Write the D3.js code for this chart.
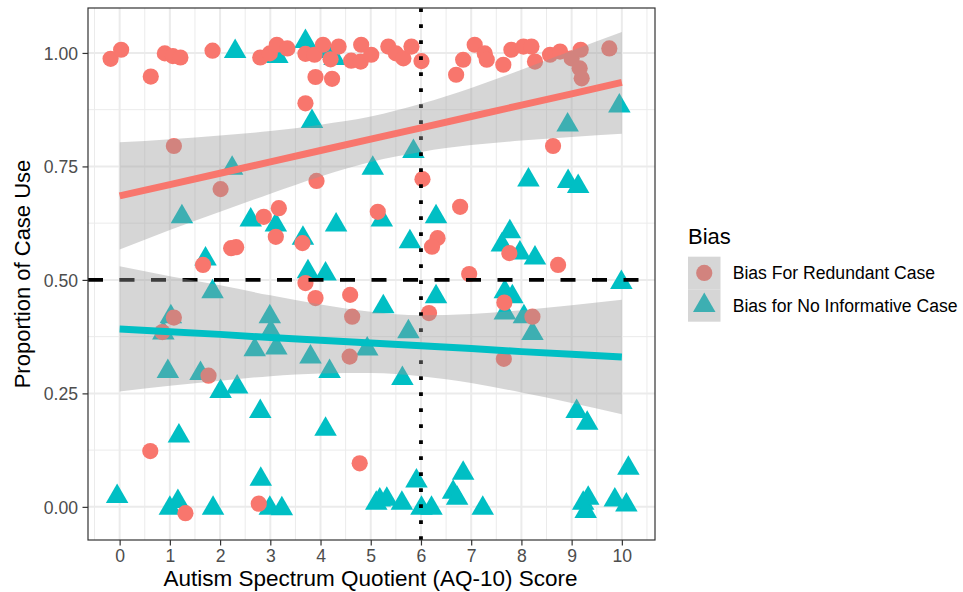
<!DOCTYPE html>
<html>
<head>
<meta charset="utf-8">
<script src="https://cdn.jsdelivr.net/npm/d3@7"></script>
<style>
  body { margin: 0; background: #fff; }
  svg text { font-family: "Liberation Sans", Arial, Helvetica, sans-serif; }
</style>
</head>
<body>
<script>
// ---- data ----
// Bias For Redundant Case (circles)
var redundantAQ = [-0.18, 0.03, 0.62, 0.90, 1.06, 1.21, 1.85, 1.08, 2.80, 2.99, 3.13, 3.34, 3.70, 3.70, 3.88,
  4.05, 4.20, 4.36, 3.90, 4.23, 4.61, 4.80, 4.81, 5.01, 3.92, 5.35, 5.50, 5.65, 5.81, 6.01, 6.70, 6.84,
  7.07, 7.27, 7.31, 7.64, 7.80, 8.04, 8.20, 8.27, 8.57, 8.77, 9.00, 9.18, 9.16, 9.20, 9.75, 8.63, 6.03,
  2.01, 2.87, 3.17, 3.11, 3.64, 2.22, 2.32, 1.66, 3.70, 3.90, 4.59, 4.63, 1.08, 0.85, 4.58, 5.14, 6.78,
  6.33, 6.22, 7.76, 8.73, 6.96, 6.16, 7.66, 8.22, 7.65, 1.77, 0.61, 4.78, 2.77, 1.31];
var redundantProp = [0.987, 1.007, 0.948, 0.999, 0.993, 0.990, 1.005, 0.795, 0.990, 0.999, 1.018, 1.010, 0.889, 0.998, 0.996,
  1.018, 0.986, 1.014, 0.947, 0.943, 0.983, 0.981, 1.018, 0.996, 0.718, 1.014, 0.999, 0.988, 1.014, 0.982, 0.952, 0.985,
  1.018, 0.999, 0.985, 0.974, 1.007, 1.014, 1.014, 0.981, 0.996, 1.003, 0.988, 1.007, 0.966, 0.944, 1.010, 0.795, 0.722,
  0.700, 0.639, 0.658, 0.595, 0.581, 0.570, 0.572, 0.533, 0.493, 0.460, 0.467, 0.419, 0.417, 0.385, 0.331, 0.650, 0.661,
  0.592, 0.573, 0.559, 0.533, 0.513, 0.427, 0.450, 0.419, 0.326, 0.289, 0.123, 0.096, 0.007, -0.014];

// Bias for No Informative Case (triangles)
var noInfoAQ = [2.30, 3.14, 3.70, 4.11, 4.28, 3.83, 2.24, 5.04, 9.95, 8.92, 5.85, 1.24, 2.61, 3.11, 3.65,
  4.31, 1.71, 3.75, 4.10, 1.85, 1.02, 2.99, 3.01, 0.87, 2.69, 3.12, 3.80, 4.93, 5.22, 6.30, 8.14, 8.93,
  9.13, 5.78, 7.77, 7.61, 7.97, 8.27, 9.99, 5.25, 6.30, 7.67, 7.82, 7.67, 8.05, 8.22, 5.75, 0.96, 1.61,
  2.01, 2.34, 4.18, 2.80, 4.10, 1.18, 2.81, -0.05, 1.00, 1.16, 1.86, 2.99, 3.23, 5.11, 5.63, 9.10, 9.31,
  10.13, 6.84, 5.91, 6.64, 5.18, 5.32, 5.62, 6.72, 6.01, 6.21, 7.23, 9.33, 9.23, 9.28, 9.86, 10.09];
var noInfoProp = [1.003, 0.992, 1.025, 1.003, 0.988, 0.849, 0.746, 0.746, 0.883, 0.841, 0.783, 0.639, 0.632, 0.621, 0.592,
  0.621, 0.546, 0.518, 0.513, 0.474, 0.419, 0.419, 0.386, 0.383, 0.346, 0.350, 0.330, 0.348, 0.632, 0.639, 0.720, 0.717,
  0.706, 0.584, 0.606, 0.577, 0.559, 0.548, 0.494, 0.441, 0.463, 0.474, 0.463, 0.427, 0.419, 0.382, 0.386, 0.298, 0.294,
  0.254, 0.264, 0.298, 0.210, 0.171, 0.156, 0.061, 0.023, -0.003, 0.012, -0.003, -0.003, -0.004, 0.008, 0.283, 0.210, 0.184,
  0.085, 0.074, 0.057, 0.032, 0.015, 0.017, 0.008, 0.019, -0.003, -0.003, -0.003, 0.019, 0.008, -0.010, 0.015, 0.004];

// linear fits with 95% band, read at each score
var fitAQ = [0, 1, 2, 3, 4, 5, 6, 7, 8, 9, 10];
var redundantFit = [0.685, 0.710, 0.735, 0.760, 0.785, 0.810, 0.835, 0.860, 0.885, 0.910, 0.935];
var redundantLo  = [0.567, 0.610, 0.650, 0.690, 0.728, 0.760, 0.782, 0.797, 0.807, 0.815, 0.822];
var redundantHi  = [0.803, 0.810, 0.818, 0.828, 0.842, 0.860, 0.888, 0.923, 0.963, 1.005, 1.046];
var noInfoFit = [0.392, 0.386, 0.380, 0.373, 0.367, 0.361, 0.355, 0.349, 0.342, 0.336, 0.330];
var noInfoLo  = [0.254, 0.267, 0.278, 0.288, 0.294, 0.295, 0.288, 0.273, 0.252, 0.229, 0.204];
var noInfoHi  = [0.530, 0.508, 0.488, 0.466, 0.446, 0.430, 0.422, 0.425, 0.433, 0.444, 0.456];

var xTicks = [0, 1, 2, 3, 4, 5, 6, 7, 8, 9, 10];
var yTicks = [0, 0.25, 0.5, 0.75, 1];
var seriesNames = ["Bias For Redundant Case", "Bias for No Informative Case"];

// ---- drawing ----
var W = 963, H = 592;
var panel = { left: 88, right: 655, top: 8, bottom: 540 };
var red = "#F8766D", teal = "#00BFC4";

var svg = d3.select("body").append("svg")
  .attr("width", W).attr("height", H)
  .style("display", "block");
svg.append("rect").attr("width", W).attr("height", H).attr("fill", "#fff");

var x = d3.scaleLinear().domain([-0.63, 10.66]).range([panel.left, panel.right]);
var y = d3.scaleLinear().domain([-0.073, 1.099]).range([panel.bottom, panel.top]);

var g = svg.append("g");

// grid
var xMinor = d3.range(-0.5, 11, 1);
var yMinor = [0.125, 0.375, 0.625, 0.875];
g.selectAll(".xminor").data(xMinor).enter().append("line")
  .attr("x1", d => x(d)).attr("x2", d => x(d))
  .attr("y1", panel.top).attr("y2", panel.bottom)
  .attr("stroke", "#EBEBEB").attr("stroke-width", 1);
g.selectAll(".yminor").data(yMinor).enter().append("line")
  .attr("y1", d => y(d)).attr("y2", d => y(d))
  .attr("x1", panel.left).attr("x2", panel.right)
  .attr("stroke", "#EBEBEB").attr("stroke-width", 1);
g.selectAll(".xmajor").data(xTicks).enter().append("line")
  .attr("x1", d => x(d)).attr("x2", d => x(d))
  .attr("y1", panel.top).attr("y2", panel.bottom)
  .attr("stroke", "#EBEBEB").attr("stroke-width", 2);
g.selectAll(".ymajor").data(yTicks).enter().append("line")
  .attr("y1", d => y(d)).attr("y2", d => y(d))
  .attr("x1", panel.left).attr("x2", panel.right)
  .attr("stroke", "#EBEBEB").attr("stroke-width", 2);

// points
function triangle(cx, cy, r) {
  var h = Math.sqrt(3) / 2 * r;
  return "M" + cx + "," + (cy - r) + "L" + (cx + h) + "," + (cy + r / 2) + "L" + (cx - h) + "," + (cy + r / 2) + "Z";
}
var noInfoPts = noInfoAQ.map((v, i) => ({ aq: v, p: noInfoProp[i] }));
var redundantPts = redundantAQ.map((v, i) => ({ aq: v, p: redundantProp[i] }));

g.selectAll(".tri").data(noInfoPts).enter().append("path")
  .attr("d", d => triangle(x(d.aq), y(d.p), 13))
  .attr("fill", teal);
g.selectAll(".dot").data(redundantPts).enter().append("circle")
  .attr("cx", d => x(d.aq)).attr("cy", d => y(d.p)).attr("r", 8.1)
  .attr("fill", red);

// reference lines
g.append("line")
  .attr("x1", panel.left).attr("x2", panel.right)
  .attr("y1", y(0.5)).attr("y2", y(0.5))
  .attr("stroke", "#000").attr("stroke-width", 3.8)
  .attr("stroke-dasharray", "15,16.5");
g.append("line")
  .attr("x1", x(6)).attr("x2", x(6))
  .attr("y1", panel.bottom).attr("y2", panel.top)
  .attr("stroke", "#000").attr("stroke-width", 3.8)
  .attr("stroke-dasharray", "3.8,12.2");

// smooths
function drawFit(mid, lo, hi, col) {
  var rows = fitAQ.map((v, i) => ({ aq: v, m: mid[i], lo: lo[i], hi: hi[i] }));
  var area = d3.area().curve(d3.curveMonotoneX)
    .x(d => x(d.aq)).y0(d => y(d.lo)).y1(d => y(d.hi));
  g.append("path").datum(rows).attr("d", area)
    .attr("fill", "#999999").attr("fill-opacity", 0.4);
  var line = d3.line().x(d => x(d.aq)).y(d => y(d.m));
  g.append("path").datum(rows).attr("d", line)
    .attr("fill", "none").attr("stroke", col).attr("stroke-width", 7);
}
drawFit(redundantFit, redundantLo, redundantHi, red);
drawFit(noInfoFit, noInfoLo, noInfoHi, teal);

// panel border
g.append("rect")
  .attr("x", panel.left).attr("y", panel.top)
  .attr("width", panel.right - panel.left).attr("height", panel.bottom - panel.top)
  .attr("fill", "none").attr("stroke", "#333333").attr("stroke-width", 1.2);

// axes
var xAxis = svg.append("g")
  .attr("transform", "translate(0," + panel.bottom + ")")
  .call(d3.axisBottom(x).tickValues(xTicks).tickFormat(d3.format("d")).tickSize(5.5).tickPadding(4.5));
var yAxis = svg.append("g")
  .attr("transform", "translate(" + panel.left + ",0)")
  .call(d3.axisLeft(y).tickValues(yTicks).tickFormat(d3.format(".2f")).tickSize(5.5).tickPadding(4.5));
[xAxis, yAxis].forEach(function (a) {
  a.select(".domain").remove();
  a.selectAll(".tick line").attr("stroke", "#333333").attr("stroke-width", 1.2);
  a.selectAll(".tick text").attr("fill", "#4D4D4D").style("font-size", "17.6px");
});
yAxis.selectAll(".tick text").attr("dy", "0.35em");

svg.append("text")
  .attr("x", (panel.left + panel.right) / 2 - 1).attr("y", 585.5)
  .attr("text-anchor", "middle").style("font-size", "22.5px").attr("fill", "#000")
  .text("Autism Spectrum Quotient (AQ-10) Score");
svg.append("text")
  .attr("transform", "translate(30," + (panel.top + panel.bottom) / 2 + ") rotate(-90)")
  .attr("text-anchor", "middle").style("font-size", "22px").attr("fill", "#000")
  .text("Proportion of Case Use");

// legend
var lg = svg.append("g").attr("transform", "translate(688,0)");
lg.append("text").attr("x", 0).attr("y", 244).style("font-size", "22px").text("Bias");
var keyTop = 256.7, keySize = 32.5;
seriesNames.forEach(function (name, i) {
  var ky = keyTop + i * keySize;
  lg.append("rect").attr("x", 0).attr("y", ky).attr("width", keySize).attr("height", keySize).attr("fill", "#fff");
  if (i === 0) {
    lg.append("circle").attr("cx", keySize / 2).attr("cy", ky + keySize / 2).attr("r", 8.1).attr("fill", red);
  } else {
    lg.append("path").attr("d", triangle(keySize / 2, ky + keySize / 2, 13)).attr("fill", teal);
  }
  lg.append("rect").attr("x", 0).attr("y", ky).attr("width", keySize).attr("height", keySize)
    .attr("fill", "#999999").attr("fill-opacity", 0.4);
  lg.append("text").attr("x", 44.7).attr("y", ky + keySize / 2 + 6.3)
    .style("font-size", "17.6px").attr("fill", "#000").text(name);
});
</script>
</body>
</html>
